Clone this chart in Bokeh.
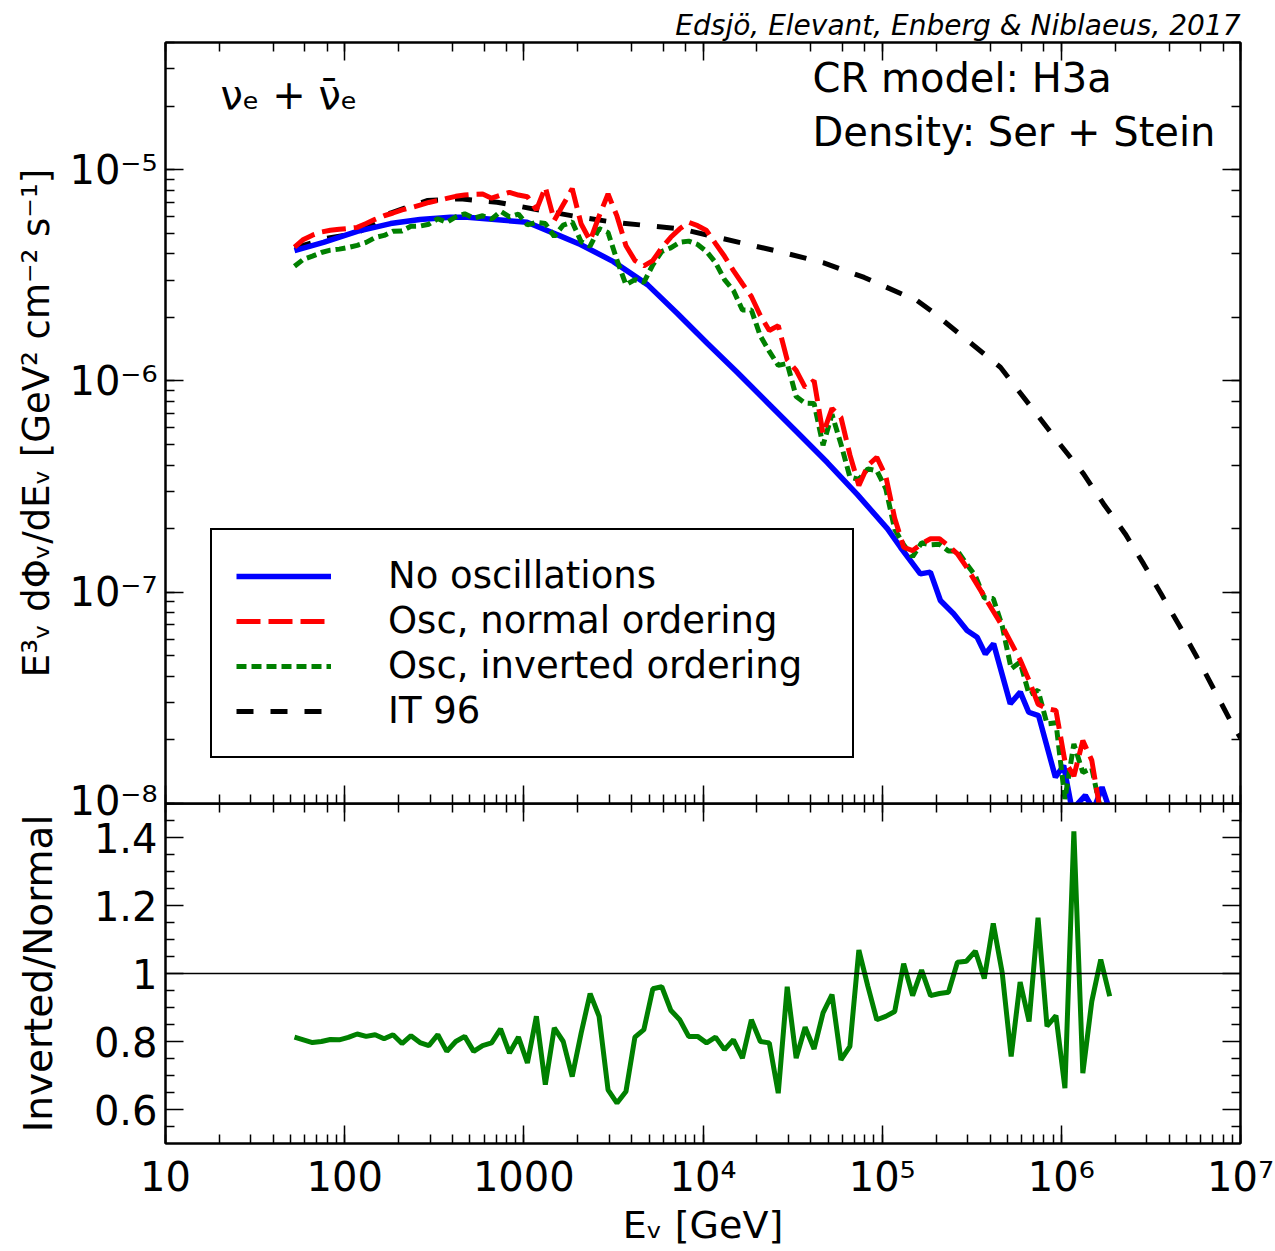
from bokeh.plotting import figure
from bokeh.models import (LogAxis, LinearAxis, LogTicker, FixedTicker, CustomJSTickFormatter,
                          Legend, LegendItem, Label, Span, Range1d)
from bokeh.layouts import column
from bokeh.embed import file_html
from bokeh.resources import INLINE

# ---------------- data (log10 of energy in GeV, log10 of flux) ----------------
osc_log10_energy = [
    1.72, 1.77, 1.82, 1.87, 1.92, 1.97, 2.02, 2.07, 2.12, 2.17,
    2.22, 2.27, 2.32, 2.37, 2.42, 2.47, 2.52, 2.57, 2.62, 2.67,
    2.72, 2.77, 2.82, 2.87, 2.92, 2.97, 3.02, 3.07, 3.12, 3.17,
    3.22, 3.27, 3.32, 3.37, 3.42, 3.47, 3.52, 3.57, 3.62, 3.67,
    3.72, 3.77, 3.82, 3.87, 3.92, 3.97, 4.02, 4.07, 4.12, 4.17,
    4.22, 4.27, 4.32, 4.37, 4.42, 4.47, 4.52, 4.57, 4.62, 4.67,
    4.72, 4.77, 4.82, 4.87, 4.92, 4.97, 5.02, 5.07, 5.12, 5.17,
    5.22, 5.27, 5.32, 5.37, 5.42, 5.47, 5.52, 5.57, 5.62, 5.67,
    5.72, 5.77, 5.82, 5.87, 5.92, 5.97, 6.02, 6.07, 6.12, 6.17,
    6.22, 6.27]

normal_log10_flux = [
    -5.367, -5.33, -5.31, -5.295, -5.287, -5.282, -5.278, -5.273, -5.255, -5.235,
    -5.218, -5.205, -5.19, -5.18, -5.168, -5.155, -5.146, -5.136, -5.126, -5.12,
    -5.116, -5.115, -5.135, -5.12, -5.107, -5.12, -5.128, -5.19, -5.083, -5.24,
    -5.165, -5.09, -5.257, -5.336, -5.22, -5.115, -5.22, -5.36, -5.43, -5.455,
    -5.43, -5.37, -5.32, -5.28, -5.249, -5.265, -5.288, -5.35, -5.41, -5.478,
    -5.54, -5.60, -5.69, -5.761, -5.738, -5.90, -5.95, -6.03, -5.998, -6.25,
    -6.13, -6.172, -6.35, -6.495, -6.40, -6.361, -6.45, -6.65, -6.787, -6.803,
    -6.77, -6.747, -6.747, -6.78, -6.818, -6.88, -6.95, -7.02, -7.09, -7.16,
    -7.24, -7.32, -7.418, -7.53, -7.55, -7.56, -7.80, -7.87, -7.702, -7.796,
    -8.05, -8.1]

inverted_log10_flux = [
    -5.457, -5.424, -5.409, -5.392, -5.381, -5.376, -5.368, -5.358, -5.344, -5.321,
    -5.311, -5.291, -5.290, -5.268, -5.267, -5.258, -5.232, -5.249, -5.223, -5.209,
    -5.229, -5.218, -5.234, -5.197, -5.223, -5.210, -5.261, -5.249, -5.255, -5.316,
    -5.262, -5.247, -5.341, -5.362, -5.279, -5.297, -5.428, -5.545, -5.520, -5.533,
    -5.450, -5.387, -5.370, -5.344, -5.338, -5.354, -5.387, -5.440, -5.520, -5.572,
    -5.664, -5.664, -5.787, -5.860, -5.926, -5.917, -6.074, -6.105, -6.107, -6.304,
    -6.158, -6.299, -6.455, -6.466, -6.416, -6.425, -6.509, -6.702, -6.775, -6.832,
    -6.766, -6.776, -6.773, -6.805, -6.804, -6.865, -6.922, -7.027, -7.030, -7.159,
    -7.362, -7.331, -7.484, -7.464, -7.623, -7.618, -7.979, -7.718, -7.853, -7.833,
    -8.033, -8.13]

ratio_inverted_normal = [
    0.813, 0.805, 0.797, 0.800, 0.806, 0.805, 0.812, 0.822, 0.815, 0.820,
    0.808, 0.820, 0.794, 0.817, 0.797, 0.788, 0.820, 0.771, 0.800, 0.815,
    0.771, 0.788, 0.796, 0.837, 0.766, 0.813, 0.737, 0.874, 0.673, 0.840,
    0.800, 0.697, 0.825, 0.941, 0.874, 0.658, 0.619, 0.653, 0.813, 0.835,
    0.955, 0.961, 0.892, 0.864, 0.815, 0.815, 0.796, 0.813, 0.776, 0.805,
    0.751, 0.864, 0.800, 0.796, 0.648, 0.961, 0.751, 0.842, 0.778, 0.884,
    0.938, 0.746, 0.786, 1.069, 0.963, 0.864, 0.874, 0.888, 1.029, 0.935,
    1.010, 0.935, 0.941, 0.945, 1.033, 1.036, 1.066, 0.985, 1.147, 1.002,
    0.756, 0.975, 0.859, 1.164, 0.845, 0.876, 0.663, 1.418, 0.707, 0.918,
    1.041, 0.933]

noosc_log10_energy = [
    1.72, 1.882, 2.07, 2.256, 2.42, 2.59, 2.685, 3.018, 3.199, 3.316,
    3.50, 3.69, 3.857, 4.025, 4.192, 4.359, 4.527, 4.694, 4.862, 5.029,
    5.102, 5.213, 5.269, 5.325, 5.399, 5.474, 5.53, 5.576, 5.622, 5.715,
    5.771, 5.818, 5.873, 5.967, 6.013, 6.06, 6.134, 6.18, 6.227, 6.27]
noosc_log10_flux = [
    -5.383, -5.344, -5.292, -5.255, -5.236, -5.225, -5.225, -5.249, -5.312, -5.354,
    -5.435, -5.544, -5.681, -5.823, -5.960, -6.102, -6.244, -6.386, -6.538, -6.699,
    -6.787, -6.913, -6.905, -7.039, -7.102, -7.181, -7.213, -7.292, -7.244, -7.528,
    -7.473, -7.568, -7.584, -7.876, -7.82, -8.03, -7.962, -8.03, -7.923, -8.03]

it96_log10_energy = [
    1.72, 1.90, 2.07, 2.256, 2.46, 2.646, 2.851, 3.055, 3.316, 3.502,
    3.874, 4.432, 4.67, 4.90, 5.195, 5.286, 5.66, 5.976, 6.124, 6.236,
    6.357, 6.459, 6.562, 6.664, 6.757, 6.85, 6.943, 7.0]
it96_log10_flux = [
    -5.37, -5.325, -5.30, -5.205, -5.146, -5.138, -5.154, -5.186, -5.225, -5.249,
    -5.28, -5.389, -5.44, -5.51, -5.62, -5.676, -5.935, -6.282, -6.44, -6.582,
    -6.724, -6.866, -7.016, -7.166, -7.308, -7.457, -7.607, -7.69]

x_range_gev = (10, 1e7)
y_range_flux = (1e-8, 4.0e-5)
ratio_range = (0.5, 1.5)
ratio_major_ticks = [0.6, 0.8, 1.0, 1.2, 1.4]
ratio_minor_ticks = [0.55, 0.65, 0.7, 0.75, 0.85, 0.9, 0.95, 1.05, 1.1, 1.15,
                     1.25, 1.3, 1.35, 1.45]


def pow10(vals):
    return [10 ** v for v in vals]


E_osc = pow10(osc_log10_energy)
E_noosc = pow10(noosc_log10_energy)
E_it96 = pow10(it96_log10_energy)

FONT = "DejaVu Sans"

SUP_JS = r"""
const sup = {"-": "\u207b", "0": "\u2070", "1": "\u00b9", "2": "\u00b2", "3": "\u00b3",
             "4": "\u2074", "5": "\u2075", "6": "\u2076", "7": "\u2077", "8": "\u2078", "9": "\u2079"};
"""
x_fmt = CustomJSTickFormatter(code=SUP_JS + r"""
const e = Math.round(Math.log10(tick));
if (e >= 0 && e < 4) { return String(Math.round(tick)); }
return "10" + String(e).split("").map(c => sup[c]).join("");
""")
y_fmt = CustomJSTickFormatter(code=SUP_JS + r"""
const e = Math.round(Math.log10(tick));
return "10" + String(e).split("").map(c => sup[c]).join("");
""")
r_fmt = CustomJSTickFormatter(code="return String(Math.round(tick*10)/10);")


def style_axis(ax, show_labels, major=18, minor=9):
    ax.major_tick_in = major
    ax.major_tick_out = 0
    ax.minor_tick_in = minor
    ax.minor_tick_out = 0
    ax.axis_line_color = "black"
    ax.axis_line_width = 2
    ax.major_tick_line_color = "black"
    ax.minor_tick_line_color = "black"
    ax.major_tick_line_width = 1.5
    ax.minor_tick_line_width = 1.5
    ax.major_label_text_font = FONT
    ax.major_label_text_color = "black"
    ax.axis_label_text_font = FONT
    ax.axis_label_text_font_style = "normal"
    ax.axis_label_text_color = "black"
    ax.axis_label_text_font_size = "39px"
    if show_labels:
        ax.major_label_text_font_size = "40px"
    else:
        ax.major_label_text_font_size = "0px"
        ax.major_label_standoff = 0
        ax.formatter = CustomJSTickFormatter(code="return '';")


# ---------------- top panel ----------------
top = figure(width=1275, height=823, x_axis_type="log", y_axis_type="log",
             x_range=Range1d(*x_range_gev), y_range=Range1d(*y_range_flux),
             output_backend="svg", toolbar_location=None,
             min_border_left=165, min_border_right=35, min_border_top=42, min_border_bottom=20)
top.grid.visible = False
top.outline_line_color = "black"
top.outline_line_width = 2
top.background_fill_color = "white"
top.border_fill_color = "white"

top.title.text = "Edsjö, Elevant, Enberg & Niblaeus, 2017"
top.title.align = "right"
top.title.text_font = FONT
top.title.text_font_style = "italic"
top.title.text_font_size = "28px"
top.title.text_color = "black"
top.title.standoff = 2

style_axis(top.xaxis[0], False)
yl = top.yaxis[0]
style_axis(yl, True)
yl.formatter = y_fmt
yl.major_label_standoff = 8
yl.axis_label = "E³ᵥ dΦᵥ/dEᵥ [GeV² cm⁻² s⁻¹]"
yl.axis_label_text_font_size = "37px"
yl.axis_label_standoff = 8

ax_top = LogAxis(ticker=LogTicker())
style_axis(ax_top, False)
top.add_layout(ax_top, "above")
ax_right = LogAxis(ticker=LogTicker())
style_axis(ax_right, False)
top.add_layout(ax_right, "right")

r_it = top.line(E_it96, pow10(it96_log10_flux), line_color="black", line_width=5, line_dash="17 17")
r_blue = top.line(E_noosc, pow10(noosc_log10_flux), line_color="#0000ff", line_width=5.5)
r_green = top.line(E_osc, pow10(inverted_log10_flux), line_color="#008000", line_width=5, line_dash="10 5")
r_red = top.line(E_osc, pow10(normal_log10_flux), line_color="#ff0000", line_width=5, line_dash="24 8")

legend = Legend(items=[
    LegendItem(label="No oscillations", renderers=[r_blue]),
    LegendItem(label="Osc, normal ordering", renderers=[r_red]),
    LegendItem(label="Osc, inverted ordering", renderers=[r_green]),
    LegendItem(label="IT 96", renderers=[r_it]),
], location=(45, 45), padding=24, spacing=2, glyph_width=95, glyph_height=30,
    label_standoff=57, label_width=440, label_text_font=FONT, label_text_font_size="37px",
    label_text_color="black", border_line_color="black", border_line_width=2,
    border_line_alpha=1.0, background_fill_color="white", background_fill_alpha=1.0)
top.add_layout(legend)

top.add_layout(Label(x=647, y=703, x_units="screen", y_units="screen",
                     text="CR model: H3a", text_font=FONT, text_font_size="40px",
                     text_color="black"))
top.add_layout(Label(x=647, y=649, x_units="screen", y_units="screen",
                     text="Density: Ser + Stein", text_font=FONT, text_font_size="40px",
                     text_color="black"))
top.add_layout(Label(x=55, y=686, x_units="screen", y_units="screen",
                     text="νₑ + ν̄ₑ", text_font=FONT, text_font_size="40px",
                     text_color="black"))

# ---------------- bottom panel ----------------
bot = figure(width=1275, height=448, x_axis_type="log",
             x_range=top.x_range, y_range=Range1d(*ratio_range),
             output_backend="svg", toolbar_location=None,
             min_border_left=165, min_border_right=35, min_border_top=0, min_border_bottom=108,
             margin=(-20, 0, 0, 0))
bot.grid.visible = False
bot.outline_line_color = "black"
bot.outline_line_width = 2
bot.background_fill_alpha = 0.0
bot.border_fill_alpha = 0.0

xb = bot.xaxis[0]
style_axis(xb, True)
xb.formatter = x_fmt
xb.major_label_standoff = 10
xb.axis_label = "Eᵥ [GeV]"
xb.axis_label_text_font_size = "38px"
xb.axis_label_standoff = 0

yb = bot.yaxis[0]
style_axis(yb, True)
yb.ticker = FixedTicker(ticks=ratio_major_ticks, minor_ticks=ratio_minor_ticks)
yb.formatter = r_fmt
yb.major_label_standoff = 8
yb.axis_label = "Inverted/Normal"
yb.axis_label_standoff = 30

bx_top = LogAxis(ticker=LogTicker())
style_axis(bx_top, False)
bot.add_layout(bx_top, "above")
by_right = LinearAxis(ticker=FixedTicker(ticks=ratio_major_ticks, minor_ticks=ratio_minor_ticks))
style_axis(by_right, False)
bot.add_layout(by_right, "right")

bot.add_layout(Span(location=1.0, dimension="width", line_color="black", line_width=1.5))
bot.line(E_osc, ratio_inverted_normal, line_color="#008000", line_width=5)

layout = column(top, bot, spacing=0)
open("out.html", "w").write(file_html(layout, INLINE))
